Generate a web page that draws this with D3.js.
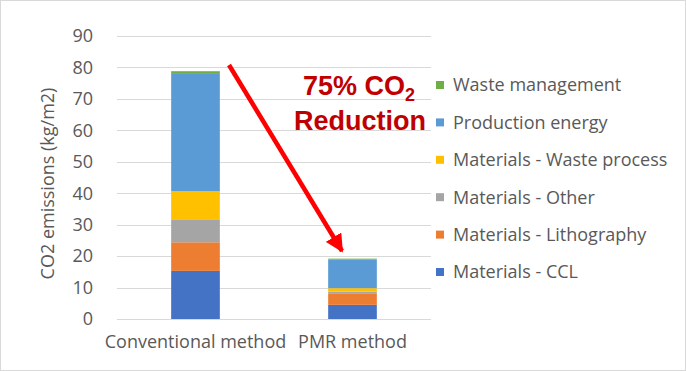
<!DOCTYPE html>
<html>
<head>
<meta charset="utf-8">
<script src="https://cdn.jsdelivr.net/npm/d3@7"></script>
<style>
  body { margin: 0; background: #fff; }
  svg text { font-family: "Open Sans", sans-serif; }
</style>
</head>
<body>
<div id="chart"></div>
<script>
// categories and stacked series (kg CO2 / m2)
const categories = ['Conventional method', 'PMR method']
const seriesNames = ['Materials - CCL', 'Materials - Lithography', 'Materials - Other',
    'Materials - Waste process', 'Production energy', 'Waste management']
const materialsCCL = [15.3, 4.5]
const materialsLitho = [9.1, 3.5]
const materialsOther = [7.1, 0.7]
const materialsWaste = [9.2, 1.1]
const productionEnergy = [37.5, 9.1]
const wasteManagement = [0.6, 0.3]
const yTicks = [0, 10, 20, 30, 40, 50, 60, 70, 80, 90]
const colors = ['#4472c4', '#ed7d31', '#a5a5a5', '#ffc000', '#5b9bd5', '#70ad47']

const width = 686, height = 371
const margin = { top: 36, left: 117, right: 255, bottom: 52 }

const svg = d3.select('#chart').append('svg')
    .attr('width', width)
    .attr('height', height)

svg.append('rect')
    .attr('x', 0.5).attr('y', 0.5)
    .attr('width', width - 1).attr('height', height - 1)
    .attr('fill', '#fff')
    .attr('stroke', '#d9d9d9')

const x = d3.scaleBand()
    .domain(categories)
    .range([margin.left, width - margin.right])
    .paddingInner(0.69)
    .paddingOuter(0.345)

const y = d3.scaleLinear()
    .domain([0, 90])
    .range([height - margin.bottom, margin.top])

// gridlines
svg.append('g')
    .selectAll('line')
    .data(yTicks)
    .enter()
    .append('line')
    .attr('x1', margin.left)
    .attr('x2', width - margin.right)
    .attr('y1', d => Math.round(y(d)) + 0.5)
    .attr('y2', d => Math.round(y(d)) + 0.5)
    .attr('stroke', '#d9d9d9')
    .attr('stroke-width', 1)

// y tick labels
svg.append('g')
    .selectAll('text')
    .data(yTicks)
    .enter()
    .append('text')
    .attr('x', 93)
    .attr('y', d => y(d))
    .attr('dy', '0.35em')
    .attr('text-anchor', 'end')
    .attr('fill', '#595959')
    .style('font-size', '18px')
    .text(d => d)

// y axis title
svg.append('text')
    .attr('transform', 'translate(54,' + (margin.top + (height - margin.bottom - margin.top) / 2 + 6) + ') rotate(-90)')
    .attr('text-anchor', 'middle')
    .attr('fill', '#595959')
    .style('font-size', '18px')
    .text('CO2 emissions (kg/m2)')

// x labels
svg.append('g')
    .selectAll('text')
    .data(categories)
    .enter()
    .append('text')
    .attr('x', d => x(d) + x.bandwidth() / 2)
    .attr('y', 348)
    .attr('text-anchor', 'middle')
    .attr('fill', '#595959')
    .style('font-size', '18px')
    .text(d => d)

// stack
const table = categories.map((c, i) => ({
    category: c,
    'Materials - CCL': materialsCCL[i],
    'Materials - Lithography': materialsLitho[i],
    'Materials - Other': materialsOther[i],
    'Materials - Waste process': materialsWaste[i],
    'Production energy': productionEnergy[i],
    'Waste management': wasteManagement[i]
}))
const stacked = d3.stack().keys(seriesNames)(table)

svg.append('g')
    .selectAll('g')
    .data(stacked)
    .enter()
    .append('g')
    .attr('fill', (d, i) => colors[i])
    .selectAll('rect')
    .data(d => d)
    .enter()
    .append('rect')
    .attr('x', d => x(d.data.category))
    .attr('width', x.bandwidth())
    .attr('y', d => y(d[1]))
    .attr('height', d => y(d[0]) - y(d[1]))

// legend (top entry is last series)
const legend = svg.append('g')
    .attr('transform', 'translate(436,85)')
const legendItems = legend.selectAll('g')
    .data(seriesNames.slice().reverse())
    .enter()
    .append('g')
    .attr('transform', (d, i) => 'translate(0,' + (i * 37.4) + ')')
legendItems.append('rect')
    .attr('x', 0).attr('y', -4)
    .attr('width', 8).attr('height', 8)
    .attr('fill', d => colors[seriesNames.indexOf(d)])
legendItems.append('text')
    .attr('x', 17)
    .attr('y', 0)
    .attr('dy', '0.35em')
    .attr('fill', '#595959')
    .style('font-size', '18px')
    .text(d => d)

// reduction arrow
const defs = svg.append('defs')
defs.append('marker')
    .attr('id', 'arrowhead')
    .attr('viewBox', '0 0 10 10')
    .attr('refX', 9).attr('refY', 5)
    .attr('markerWidth', 4).attr('markerHeight', 4)
    .attr('orient', 'auto')
    .append('path')
    .attr('d', 'M0,0 L10,5 L0,10 Z')
    .attr('fill', '#ff0000')

svg.append('line')
    .attr('x1', 229).attr('y1', 65)
    .attr('x2', 342).attr('y2', 251)
    .attr('stroke', '#ff0000')
    .attr('stroke-width', 4.5)
    .attr('marker-end', 'url(#arrowhead)')

const note = svg.append('text')
    .attr('x', 359)
    .attr('y', 95)
    .attr('text-anchor', 'middle')
    .attr('fill', '#c00000')
    .style('font-family', '"Liberation Sans", Arial, sans-serif')
    .style('font-weight', 'bold')
    .style('font-size', '27px')
note.append('tspan').text('75% CO')
note.append('tspan').attr('dy', 6).style('font-size', '18px').text('2')

svg.append('text')
    .attr('x', 360)
    .attr('y', 130)
    .attr('text-anchor', 'middle')
    .attr('fill', '#c00000')
    .style('font-family', '"Liberation Sans", Arial, sans-serif')
    .style('font-weight', 'bold')
    .style('font-size', '27px')
    .text('Reduction')
</script>
</body>
</html>
